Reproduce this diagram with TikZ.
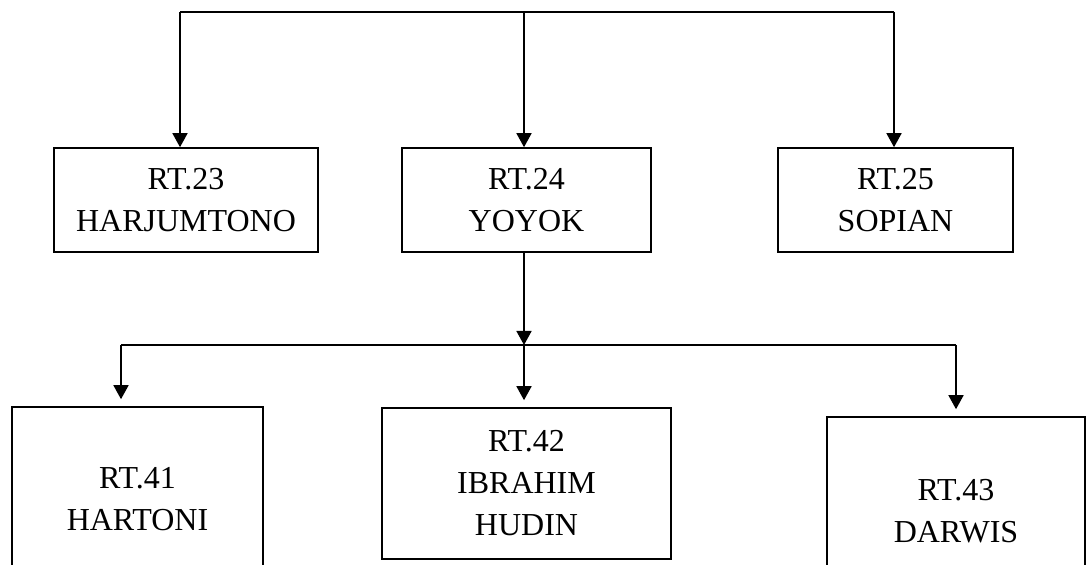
\documentclass[tikz,border=0pt]{standalone}
\usepackage{fontspec}
\setmainfont{Liberation Serif}
\usetikzlibrary{arrows.meta,positioning}
\tikzset{rt node/.style={rectangle,draw,line width=0.8pt,inner sep=0pt,align=center,font=\fontsize{16}{21}\selectfont},
         top node/.style={rt node,minimum height=52pt},
         link/.style={line width=0.8pt},
         drop/.style={line width=0.8pt,->,shorten >=3.5pt}
}
\begin{document}
\begin{tikzpicture}[>={Triangle[length=7pt,width=7.5pt]},
x=0.5pt, y=-0.5pt]
\useasboundingbox (0,0) rectangle (1090,565);
\clip (0,0) rectangle (1090,565);
\node [top node,minimum width=132pt] (rt23) at (186,200) {RT.23\\HARJUMTONO};
\node [top node,minimum width=124.5pt] (rt24) at (526.5,200) {RT.24\\YOYOK};
\node [top node,minimum width=117.5pt] (rt25) at (895.5,200) {RT.25\\SOPIAN};
\node [rt node,minimum width=125.5pt,minimum height=92pt] (rt41) at (137.5,499) {RT.41\\HARTONI};
\node [rt node,minimum width=144.5pt,minimum height=75.5pt] (rt42) at (526.5,483.5) {RT.42\\IBRAHIM\\HUDIN};
\node [rt node,minimum width=129pt,minimum height=94.5pt] (rt43) at (956,511.5) {RT.43\\DARWIS};
\coordinate (top l) at (180,12);
\coordinate (top m) at (524,12);
\coordinate (top r) at (894,12);
\coordinate (mid l) at (121,345);
\coordinate (mid m) at (524,345);
\coordinate (mid r) at (956,345);
\draw [link] (top l) -- (top r);
\draw [link,->] (top l) -- (top l |- rt23.north);
\draw [link,->] (top m) -- (top m |- rt24.north);
\draw [link,->] (top r) -- (top r |- rt25.north);
\draw [link,->] (rt24.south -| mid m) -- (mid m);
\draw [link] (mid l) -- (mid r);
\draw [drop] (mid l) -- (mid l |- rt41.north);
\draw [drop] (mid m) -- (mid m |- rt42.north);
\draw [drop] (mid r) -- (mid r |- rt43.north);
\end{tikzpicture}
\end{document}
